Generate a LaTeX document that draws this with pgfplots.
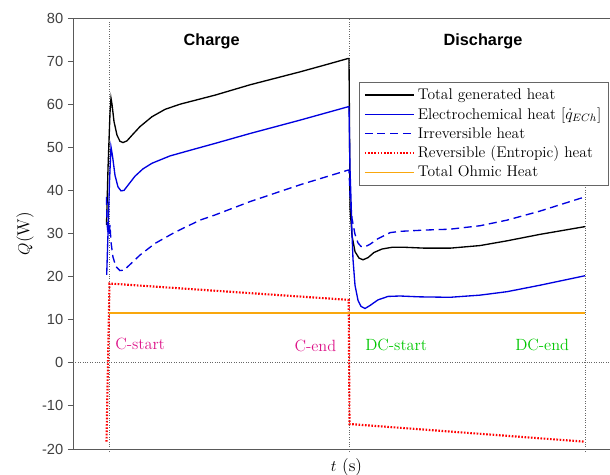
\documentclass[border=0pt]{standalone}
\usepackage{pgfplots}
\pgfplotsset{compat=1.18}
\usepackage{fontspec}
\setsansfont{Liberation Sans}
\begin{document}
\begin{tikzpicture}
\begin{axis}[
 scale only axis, width=402.75pt, height=323.25pt,
 xmin=73, xmax=610, ymin=-20, ymax=80,
 axis x line*=box, axis y line*=left,
 axis line style={black!65, line width=0.7pt},
 xtick=\empty,
 ytick={-20,-10,...,80}, yticklabels={-20,-10,0,10,20,30,40,50,60,70,80},
 tick align=outside, major tick length=3.75pt, tick style={black!65, line width=0.7pt},
 yticklabel style={font=\sffamily\fontsize{11}{13}\selectfont, text=black!75},
 xlabel={$t$ (s)}, ylabel={$Q$(W)},
 label style={font=\fontsize{13}{15}\selectfont},
 xlabel style={at={(axis description cs:0.5093,-0.041)},anchor=center},
 ylabel style={at={(axis description cs:-0.0894,0.5)},anchor=center},
 clip=false,
 legend style={at={(axis cs:608.3,65.2)}, anchor=north east, draw=black!60, fill=white,
   font=\fontsize{11.6}{13}\selectfont, inner sep=3pt, row sep=0.6pt},
 legend cell align=left,
 legend image code/.code={\draw[#1] (0cm,0cm) -- (1.3cm,0cm);},
]
% reference lines
\addplot[forget plot, black!60, line width=0.6pt, dash pattern=on 0.6pt off 1.2pt] coordinates {(73,0) (610,0)};
\addplot[forget plot, black!60, line width=0.6pt, dash pattern=on 0.6pt off 1.2pt] coordinates {(109,-20.7) (109,79)};
\addplot[forget plot, black!60, line width=0.6pt, dash pattern=on 0.6pt off 1.2pt] coordinates {(349,-20.7) (349,80)};
\addplot[forget plot, black!60, line width=0.6pt, dash pattern=on 0.6pt off 1.2pt] coordinates {(585,-20.7) (585,41.7)};

% Total generated heat
\addplot[black, line width=1pt] coordinates {
(106.5,32.0) (108,45) (110,58) (111,61.4) (112,60) (114,56) (117,52.8) (120,51.4) (123,51.1) (127,51.5) (132,52.8) (140,54.8) (152,57.1) (165,58.8) (180,60.0) (200,61.2) (215,62.1) (250,64.5) (275,66.0) (300,67.5) (325,69.1) (348,70.6)
(349,70.6) (349.5,55) (350,36) (352,29.5) (355,25.8) (359,24.3) (363,23.9) (368,24.4) (374,25.6) (382,26.4) (392,26.8) (405,26.8) (425,26.6) (450,26.6) (480,27.2) (507,28.3) (540,29.8) (585,31.6)
};
\addlegendentry{Total generated heat}

% Electrochemical heat
\addplot[blue!88!black, line width=1pt] coordinates {
(106.7,20.4) (108,30) (109.5,42) (111,50.1) (112.5,48) (115,43.5) (118,40.8) (121,39.9) (124,40.0) (128,41.2) (135,43.3) (143,45.0) (152,46.3) (170,48.0) (190,49.3) (215,50.9) (250,53.2) (300,56.3) (348,59.4)
(349,59.4) (350,45) (351,38) (352,30) (353,24) (355,18) (358,14.5) (361,13.1) (365,12.6) (370,13.3) (378,14.6) (388,15.4) (400,15.5) (420,15.3) (450,15.2) (480,15.7) (507,16.5) (540,18.0) (585,20.2)
};
\addlegendentry{Electrochemical heat [$\dot{q}_{ECh}$]}

% Irreversible heat
\addplot[blue!88!black, line width=1pt, dash pattern=on 6pt off 3.5pt] coordinates {
(106.5,38.5) (107,33) (107.8,30) (108.5,32.5) (109.2,29.5) (110,32) (111,28) (113,24.5) (116,22.3) (120,21.4) (124,21.5) (130,22.8) (140,25.0) (155,27.7) (175,30.3) (200,33.1) (215,34.3) (250,37.4) (300,41.3) (348,44.7)
(349,44.7) (350,39) (352,33.5) (355,29.8) (358,27.8) (361,27.0) (365,26.9) (370,27.5) (378,28.8) (390,30.2) (400,30.5) (425,30.8) (450,31.0) (480,31.8) (507,33.1) (540,35.2) (585,38.5)
};
\addlegendentry{Irreversible heat}

% Reversible heat
\addplot[red, line width=1.6pt, dash pattern=on 1.2pt off 1.2pt] coordinates {
(106.5,-18.3) (109.5,18.4) (348.7,14.6) (349.5,-14.2) (585,-18.3)
};
\addlegendentry{Reversible (Entropic) heat}

% Ohmic heat
\addplot[yellow!65!red, line width=1.3pt] coordinates {(109,11.5) (585,11.5)};
\addlegendentry{Total Ohmic Heat}

\node[font=\sffamily\bfseries\fontsize{12.2}{14}\selectfont, anchor=base] at (axis cs:211.7,73.7) {Charge};
\node[font=\sffamily\bfseries\fontsize{12.2}{14}\selectfont, anchor=base] at (axis cs:483,73.7) {Discharge};
\node[font=\fontsize{12.2}{14}\selectfont, text=magenta!92!black, anchor=base west, inner sep=0pt] at (axis cs:115,3.0) {C-start};
\node[font=\fontsize{12.2}{14}\selectfont, text=magenta!92!black, anchor=base west, inner sep=0pt] at (axis cs:294.3,2.6) {C-end};
\node[font=\fontsize{12.2}{14}\selectfont, text=green!78!black, anchor=base west, inner sep=0pt] at (axis cs:365,2.8) {DC-start};
\node[font=\fontsize{12.2}{14}\selectfont, text=green!78!black, anchor=base west, inner sep=0pt] at (axis cs:515,2.8) {DC-end};
\end{axis}
\pgfresetboundingbox
\useasboundingbox ([shift={(-54.75pt,-18.75pt)}]current axis.south west) rectangle ([shift={(0pt,13.5pt)}]current axis.north east);
\end{tikzpicture}
\end{document}
